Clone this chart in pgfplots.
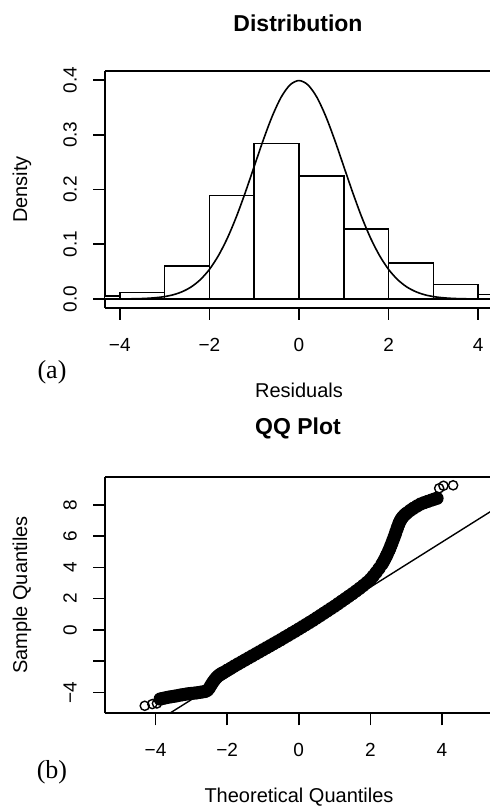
\documentclass[border=0pt]{standalone}
\usepackage{fontspec}
\setmainfont{Liberation Sans}
\newfontfamily\serifabc{Liberation Serif}
\usepackage{pgfplots}
\pgfplotsset{compat=1.18}
\begin{document}
\begin{tikzpicture}
\useasboundingbox (0,0) rectangle (245pt,403.5pt);
\pgfplotsset{
  rstyle/.style={
    scale only axis,
    axis x line*=bottom, axis y line*=left,
    axis line style={line width=0.8pt,-},
    every tick/.append style={black, line width=0.8pt},
    tick align=outside,
    major tick length=6pt,
    tick label style={font=\fontsize{9.5}{11}\selectfont},
    xticklabel style={anchor=center, yshift=-12.5pt},
    yticklabel style={rotate=90, anchor=center, yshift=11.5pt},
  }
}
\begin{axis}[rstyle, at={(52.5pt,249.5pt)}, anchor=south west,
  width=192.5pt, height=118.5pt,
  xmin=-4.33, xmax=4.264, ymin=-0.0164, ymax=0.4164,
  xtick={-4,-2,0,2,4}, xticklabels={−4,−2,0,2,4},
  ytick={0,0.1,0.2,0.3,0.4}, yticklabels={0.0,0.1,0.2,0.3,0.4}]
\addplot[ybar interval, draw=black, fill=white, line width=0.75pt] coordinates {
  (-5,0.0055) (-4,0.0116) (-3,0.060) (-2,0.189) (-1,0.284) (0,0.225)
  (1,0.128) (2,0.066) (3,0.0262) (4,0.0085) (5,0.0085)};
\addplot[black, line width=0.75pt] coordinates {(-5,0) (5,0)};
\addplot[black, line width=0.8pt, smooth] coordinates {
  (-4.0,0.0001) (-3.8,0.0003) (-3.6,0.0006) (-3.4,0.0012) (-3.2,0.0024)
  (-3.0,0.0044) (-2.8,0.0079) (-2.6,0.0136) (-2.4,0.0224) (-2.2,0.0355)
  (-2.0,0.0540) (-1.8,0.0790) (-1.6,0.1109) (-1.4,0.1497) (-1.2,0.1942)
  (-1.0,0.2420) (-0.8,0.2897) (-0.6,0.3332) (-0.4,0.3683) (-0.2,0.3910)
  (0.0,0.3989) (0.2,0.3910) (0.4,0.3683) (0.6,0.3332) (0.8,0.2897)
  (1.0,0.2420) (1.2,0.1942) (1.4,0.1497) (1.6,0.1109) (1.8,0.0790)
  (2.0,0.0540) (2.2,0.0355) (2.4,0.0224) (2.6,0.0136) (2.8,0.0079)
  (3.0,0.0044) (3.2,0.0024) (3.4,0.0012) (3.6,0.0006) (3.8,0.0003) (4.0,0.0001)};
\draw[line width=0.8pt] (rel axis cs:0,1) -- (rel axis cs:1,1);
\end{axis}

\begin{axis}[rstyle, at={(52.5pt,46.85pt)}, anchor=south west,
  width=192.5pt, height=118.3pt,
  xmin=-5.41, xmax=5.34, ymin=-5.33, ymax=9.80,
  xtick={-4,-2,0,2,4}, xticklabels={−4,−2,0,2,4},
  ytick={-4,-2,0,2,4,6,8}, yticklabels={−4,,0,2,4,6,8}]
\addplot[black, line width=0.7pt] coordinates {(-6,-8.78) (6,8.50)};
\addplot[only marks, mark=*, mark size=3.0pt, mark options={fill=black, draw=black, line width=0.6pt}] table {
x y
-3.87 -4.42
-3.80 -4.38
-3.72 -4.34
-3.64 -4.30
-3.56 -4.27
-3.48 -4.24
-3.40 -4.21
-3.32 -4.17
-3.24 -4.14
-3.16 -4.11
-3.08 -4.08
-3.00 -4.06
-2.92 -4.04
-2.84 -4.02
-2.76 -3.99
-2.68 -3.96
-2.61 -3.93
-2.55 -3.86
-2.50 -3.72
-2.45 -3.53
-2.40 -3.35
-2.35 -3.19
-2.30 -3.05
-2.25 -2.94
-2.20 -2.85
-2.15 -2.78
-2.10 -2.72
-2.00 -2.58
-1.90 -2.45
-1.80 -2.31
-1.70 -2.18
-1.60 -2.05
-1.50 -1.92
-1.40 -1.79
-1.30 -1.66
-1.20 -1.53
-1.10 -1.40
-1.00 -1.27
-0.90 -1.14
-0.80 -1.01
-0.70 -0.88
-0.60 -0.75
-0.50 -0.62
-0.40 -0.48
-0.30 -0.35
-0.20 -0.21
-0.10 -0.08
0.00 0.06
0.10 0.20
0.20 0.34
0.30 0.48
0.40 0.62
0.50 0.77
0.60 0.92
0.70 1.07
0.80 1.22
0.90 1.37
1.00 1.52
1.10 1.68
1.20 1.84
1.30 2.00
1.40 2.16
1.50 2.32
1.60 2.49
1.70 2.66
1.80 2.84
1.90 3.03
2.00 3.24
2.08 3.45
2.16 3.68
2.24 3.93
2.32 4.20
2.36 4.35
2.40 4.52
2.44 4.70
2.47 4.85
2.51 5.05
2.54 5.20
2.57 5.38
2.60 5.55
2.63 5.74
2.66 5.92
2.69 6.10
2.71 6.25
2.74 6.44
2.76 6.58
2.79 6.75
2.81 6.88
2.84 7.01
2.87 7.12
2.90 7.22
2.94 7.32
2.98 7.41
3.02 7.48
3.11 7.64
3.20 7.78
3.30 7.92
3.40 8.05
3.50 8.14
3.60 8.22
3.70 8.30
3.78 8.36
3.86 8.42
};
\addplot[only marks, mark=o, mark size=2.3pt, mark options={line width=0.7pt, fill=white}] coordinates {
  (-4.30,-4.85) (-4.09,-4.74) (-3.96,-4.70) (3.92,9.06) (4.04,9.22) (4.31,9.25)};
\draw[line width=0.8pt] (rel axis cs:0,1) -- (rel axis cs:1,1);
\end{axis}

\node[font=\bfseries\fontsize{11.5}{13}\selectfont] at (149pt,392pt) {Distribution};
\node[font=\fontsize{10}{12}\selectfont] at (149.5pt,208.5pt) {Residuals};
\node[rotate=90, font=\fontsize{10}{12}\selectfont] at (11pt,308.75pt) {Density};
\node[font=\serifabc\fontsize{13}{15}\selectfont] at (26pt,217.5pt) {(a)};
\node[font=\bfseries\fontsize{11.5}{13}\selectfont] at (149pt,189.5pt) {QQ Plot};
\node[rotate=90, font=\fontsize{10}{12}\selectfont] at (11pt,106pt) {Sample Quantiles};
\node[font=\serifabc\fontsize{13}{15}\selectfont] at (26pt,17.5pt) {(b)};
\node[font=\fontsize{10}{12}\selectfont] at (149.5pt,5pt) {Theoretical Quantiles};
\end{tikzpicture}
\end{document}
